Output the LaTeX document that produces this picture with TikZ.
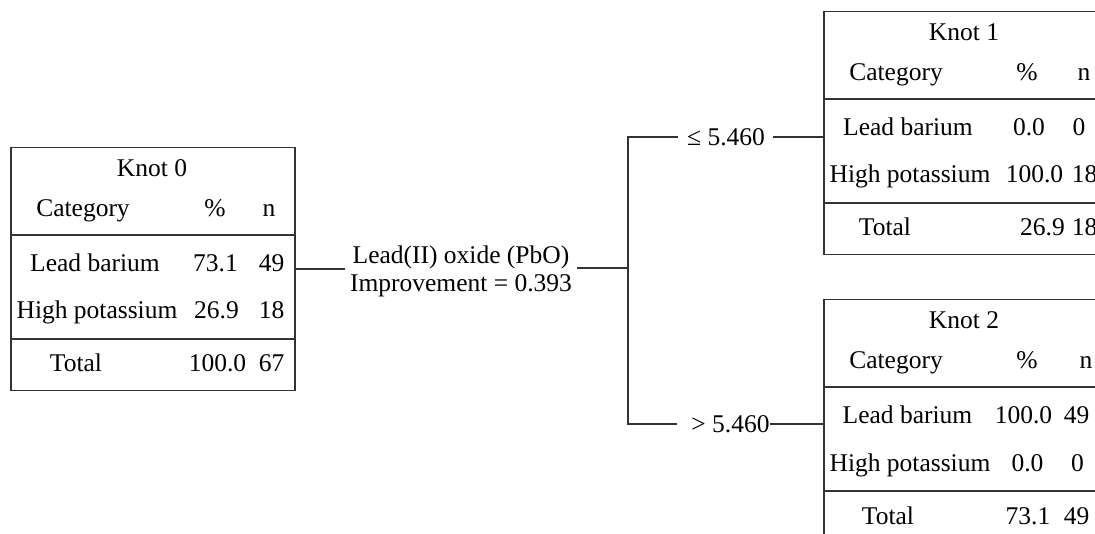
\documentclass[tikz,border=0pt]{standalone}
\usepackage{fontspec}
\setmainfont{Liberation Serif}

\tikzset{
  knotbox/.style={draw=black!80, line width=1.5pt, minimum width=284pt, minimum height=243pt, inner sep=0pt, anchor=north west},
  cell/.style={anchor=base, inner sep=0pt},
  branch/.style={inner xsep=0pt, text height=17pt, text depth=0pt},
  link/.style={draw=black!80, line width=1.5pt},
}

\begin{document}
\begin{tikzpicture}[x=1pt, y=-1pt, every node/.style={font=\fontsize{25.5}{28.4}\selectfont}]
  \useasboundingbox (0,0) rectangle (1095,534);
  \clip (0,0) rectangle (1095,534);

  \node[knotbox] (k0) at (10,147) {};
  \draw[link] ([yshift=-88pt]k0.north west) -- ([yshift=-88pt]k0.north east);
  \draw[link] ([yshift=-192pt]k0.north west) -- ([yshift=-192pt]k0.north east);
  \node[cell] (k0title) at ([shift={(142,30)}]k0.north west) {Knot 0};
  \node[cell] (k0cat) at ([shift={(73,70)}]k0.north west) {Category};
  \node[cell] (k0pct) at ([shift={(205,70)}]k0.north west) {\%};
  \node[cell] (k0n) at ([shift={(259,70)}]k0.north west) {n};
  \node[cell] (k0lb) at ([shift={(85,125)}]k0.north west) {Lead barium};
  \node[cell] (k0lbp) at ([shift={(205.5,125)}]k0.north west) {73.1};
  \node[cell] (k0lbn) at ([shift={(261.5,125)}]k0.north west) {49};
  \node[cell] (k0hp) at ([shift={(87,172)}]k0.north west) {High potassium};
  \node[cell] (k0hpp) at ([shift={(206.5,172)}]k0.north west) {26.9};
  \node[cell] (k0hpn) at ([shift={(261.5,172)}]k0.north west) {18};
  \node[cell] (k0tot) at ([shift={(66,225)}]k0.north west) {Total};
  \node[cell] (k0totp) at ([shift={(207.5,225)}]k0.north west) {100.0};
  \node[cell] (k0totn) at ([shift={(261.5,225)}]k0.north west) {67};

  \node[knotbox] (k1) at (823,11) {};
  \draw[link] ([yshift=-88pt]k1.north west) -- ([yshift=-88pt]k1.north east);
  \draw[link] ([yshift=-192pt]k1.north west) -- ([yshift=-192pt]k1.north east);
  \node[cell] (k1title) at ([shift={(141,30)}]k1.north west) {Knot 1};
  \node[cell] (k1cat) at ([shift={(73,70)}]k1.north west) {Category};
  \node[cell] (k1pct) at ([shift={(204,70)}]k1.north west) {\%};
  \node[cell] (k1n) at ([shift={(261,70)}]k1.north west) {n};
  \node[cell] (k1lb) at ([shift={(85,125)}]k1.north west) {Lead barium};
  \node[cell] (k1lbp) at ([shift={(206,125)}]k1.north west) {0.0};
  \node[cell] (k1lbn) at ([shift={(256,125)}]k1.north west) {0};
  \node[cell] (k1hp) at ([shift={(87,172)}]k1.north west) {High potassium};
  \node[cell] (k1hpp) at ([shift={(211.5,172)}]k1.north west) {100.0};
  \node[cell] (k1hpn) at ([shift={(261.5,172)}]k1.north west) {18};
  \node[cell] (k1tot) at ([shift={(62,225)}]k1.north west) {Total};
  \node[cell] (k1totp) at ([shift={(219.5,225)}]k1.north west) {26.9};
  \node[cell] (k1totn) at ([shift={(261.5,225)}]k1.north west) {18};

  \node[knotbox] (k2) at (823,299) {};
  \draw[link] ([yshift=-88pt]k2.north west) -- ([yshift=-88pt]k2.north east);
  \draw[link] ([yshift=-192pt]k2.north west) -- ([yshift=-192pt]k2.north east);
  \node[cell] (k2title) at ([shift={(141,30)}]k2.north west) {Knot 2};
  \node[cell] (k2cat) at ([shift={(73,70)}]k2.north west) {Category};
  \node[cell] (k2pct) at ([shift={(204,70)}]k2.north west) {\%};
  \node[cell] (k2n) at ([shift={(263,70)}]k2.north west) {n};
  \node[cell] (k2lb) at ([shift={(84.5,125)}]k2.north west) {Lead barium};
  \node[cell] (k2lbp) at ([shift={(200.5,125)}]k2.north west) {100.0};
  \node[cell] (k2lbn) at ([shift={(253.5,125)}]k2.north west) {49};
  \node[cell] (k2hp) at ([shift={(87,172)}]k2.north west) {High potassium};
  \node[cell] (k2hpp) at ([shift={(204.5,172)}]k2.north west) {0.0};
  \node[cell] (k2hpn) at ([shift={(254.5,172)}]k2.north west) {0};
  \node[cell] (k2tot) at ([shift={(65,225)}]k2.north west) {Total};
  \node[cell] (k2totp) at ([shift={(205,225)}]k2.north west) {73.1};
  \node[cell] (k2totn) at ([shift={(253.5,225)}]k2.north west) {49};

  \node[align=center, inner xsep=5pt, inner ysep=0pt] (split) at (461,271.4) {Lead(II) oxide (PbO)\\Improvement = 0.393};
  \node[branch] (le) at (726,137) {≤ 5.460};
  \node[branch] (gt) at (730.5,424) {> 5.460};
  \coordinate (fork) at (628,268);

  \draw[link] (k0.east) -- (k0.east -| split.west);
  \draw[link] (split.east |- fork) -- (fork);
  \draw[link] ([xshift=-9pt]le.west) -- (fork |- le) -- (fork |- gt) -- ([xshift=-14pt]gt.west);
  \draw[link] ([xshift=8pt]le.east) -- (le.east -| k1.west);
  \draw[link] (gt.east) -- (gt.east -| k2.west);
\end{tikzpicture}
\end{document}
